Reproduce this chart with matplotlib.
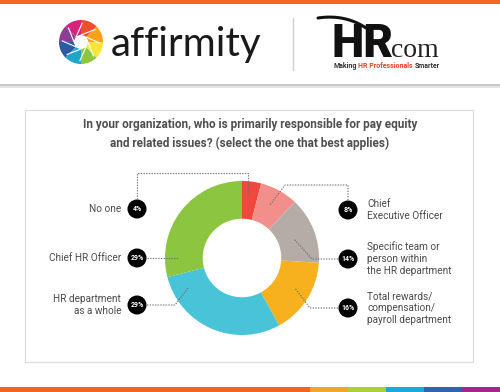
import numpy as np
import matplotlib.pyplot as plt
from matplotlib.patches import Circle, Rectangle, Wedge

# data
labels = ["No one", "Chief\nExecutive Officer", "Specific team or\nperson within\nthe HR department",
          "Total rewards/\ncompensation/\npayroll department", "HR department\nas a whole", "Chief HR Officer"]
values = [4, 8, 14, 16, 29, 29]
colors = ["#f0483e", "#f38f8a", "#b5aca8", "#f7b11e", "#48c3d8", "#8cc640"]
title = "In your organization, who is primarily responsible for pay equity\nand related issues? (select the one that best applies)"

W, H = 500, 392
fig = plt.figure(figsize=(W / 100, H / 100), dpi=100)
fig.patch.set_facecolor("white")

# donut
cx, cy, R = 242, 258, 77
pax = fig.add_axes([(cx - R) / W, 1 - (cy + R) / H, 2 * R / W, 2 * R / H], zorder=1)
pax.pie(values, colors=colors, startangle=90, counterclock=False, radius=1,
        wedgeprops=dict(width=0.49, linewidth=0))
pax.set_xlim(-1, 1)
pax.set_ylim(-1, 1)
pax.set_aspect("equal")
pax.axis("off")

# overlay in pixel coordinates
ax = fig.add_axes([0, 0, 1, 1], zorder=2)
ax.set_xlim(0, W)
ax.set_ylim(H, 0)
ax.axis("off")

# top / bottom bars
ax.add_patch(Rectangle((0, 0), W, 4, color="#f26522", lw=0))
ax.add_patch(Rectangle((0, 84), W, 2, color="#c8c8c8", lw=0))
ax.add_patch(Rectangle((0, 86), W, 2, color="#e6e6e6", lw=0))
strip = [(0, 310, "#f26522"), (310, 348, "#eda52b"), (348, 386, "#a9cf3a"),
         (386, 424, "#1ba8de"), (424, 462, "#2a67b1"), (462, 500, "#a8258d")]
for x0, x1, c in strip:
    ax.add_patch(Rectangle((x0, 387), x1 - x0, 5, color=c, lw=0))

# panel border
ax.add_patch(Rectangle((25, 110), 448, 252, fill=False, ec="#dedad6", lw=0.8))

# affirmity logo
lc = (81, 42)
logo_cols = ["#8dc63f", "#f9e43a", "#f7a21b", "#ef4d2f", "#d6247c", "#8e3d97", "#2a5aa8", "#21a6c9"]
for i, c in enumerate(logo_cols):
    a0 = 90 - i * 45
    ax.add_patch(Wedge(lc, 22, a0 - 45, a0, color=c, lw=0))
for i in range(8):
    a = np.deg2rad(90 - i * 45)
    ax.plot([lc[0] + 7 * np.cos(a), lc[0] + 7 * np.cos(a) + 15 * np.cos(a - 1.2)],
            [lc[1] - 7 * np.sin(a), lc[1] - 7 * np.sin(a) - 15 * np.sin(a - 1.2)],
            color="white", lw=0.8)
ax.add_patch(Circle(lc, 7, color="white", lw=0))
ax.text(111, 44, "affirmity", fontsize=29, family="Lato", color="#1a1a1a",
        va="center", ha="left")

# divider
ax.plot([293, 293], [18, 70], color="#d0d0d0", lw=1)

# HR.com logo
ax.text(332, 57, "HR", fontsize=33, fontweight="black", family="Roboto",
        color="#111111", va="baseline", ha="left")
ax.add_patch(Circle((387, 54), 2.8, color="#f26522", lw=0))
ax.text(391, 57, "com", fontsize=20, family="Liberation Serif", color="#222222",
        va="baseline", ha="left")
t = np.linspace(0, 1, 40)
sx = (1 - t) ** 2 * 318 + 2 * (1 - t) * t * 345 + t ** 2 * 366
sy = (1 - t) ** 2 * 18 + 2 * (1 - t) * t * 14 + t ** 2 * 28
ax.plot(sx, sy, color="#111111", lw=2.2, solid_capstyle="round")
tag = [("Making", "#333333"), ("HR Professionals", "#e8402f"), ("Smarter", "#333333")]
prev = ax.text(333, 66, tag[0][0], fontsize=5.0, family="Roboto", fontweight="bold",
               color=tag[0][1], va="center", ha="left")
for word, c in tag[1:]:
    prev = ax.annotate(word, xy=(1, 0.5), xycoords=prev, xytext=(1.3, 0),
                       textcoords="offset points", fontsize=5.0, family="Roboto",
                       fontweight="bold", color=c, va="center", ha="left")

# title
ax.text(250, 134, title, fontsize=8.5, family="Roboto", fontweight="bold", color="#4f4f4f",
        ha="center", va="center", linespacing=1.52)

# badges and labels
left_side = [0, 5, 4]
right_side = [1, 2, 3]
badge_y = {0: 209, 5: 258, 4: 305, 1: 210, 2: 259, 3: 308}
for i in left_side:
    y = badge_y[i]
    ax.add_patch(Circle((137, y), 9.5, color="black", lw=0))
    ax.text(137, y, f"{values[i]}%", fontsize=5, fontweight="bold", color="white",
            ha="center", va="center", family="Roboto")
    ax.text(121, y, labels[i], fontsize=7.2, family="Roboto", color="#4a4a4a",
            ha="right", va="center", linespacing=1.25)
for i in right_side:
    y = badge_y[i]
    ax.add_patch(Circle((348, y), 9.5, color="black", lw=0))
    ax.text(348, y, f"{values[i]}%", fontsize=5, fontweight="bold", color="white",
            ha="center", va="center", family="Roboto")
    ax.text(367, y, labels[i], fontsize=7.2, family="Roboto", color="#4a4a4a",
            ha="left", va="center", linespacing=1.25)

# leader lines
leaders = [
    [(137, 199), (137, 173), (248, 173), (248, 196)],
    [(348, 200), (348, 185), (285, 185), (270, 205)],
    [(338, 259), (312, 259), (294, 239)],
    [(338, 308), (310, 308), (295, 288)],
    [(147, 258), (179, 258)],
    [(147, 305), (175, 305), (188, 288)],
]
for path in leaders:
    xs, ys = zip(*path)
    ax.plot(xs, ys, color="#707070", lw=0.8, ls=(0, (1.2, 1.2)))

fig.savefig("out.png", dpi=100, facecolor="white")
